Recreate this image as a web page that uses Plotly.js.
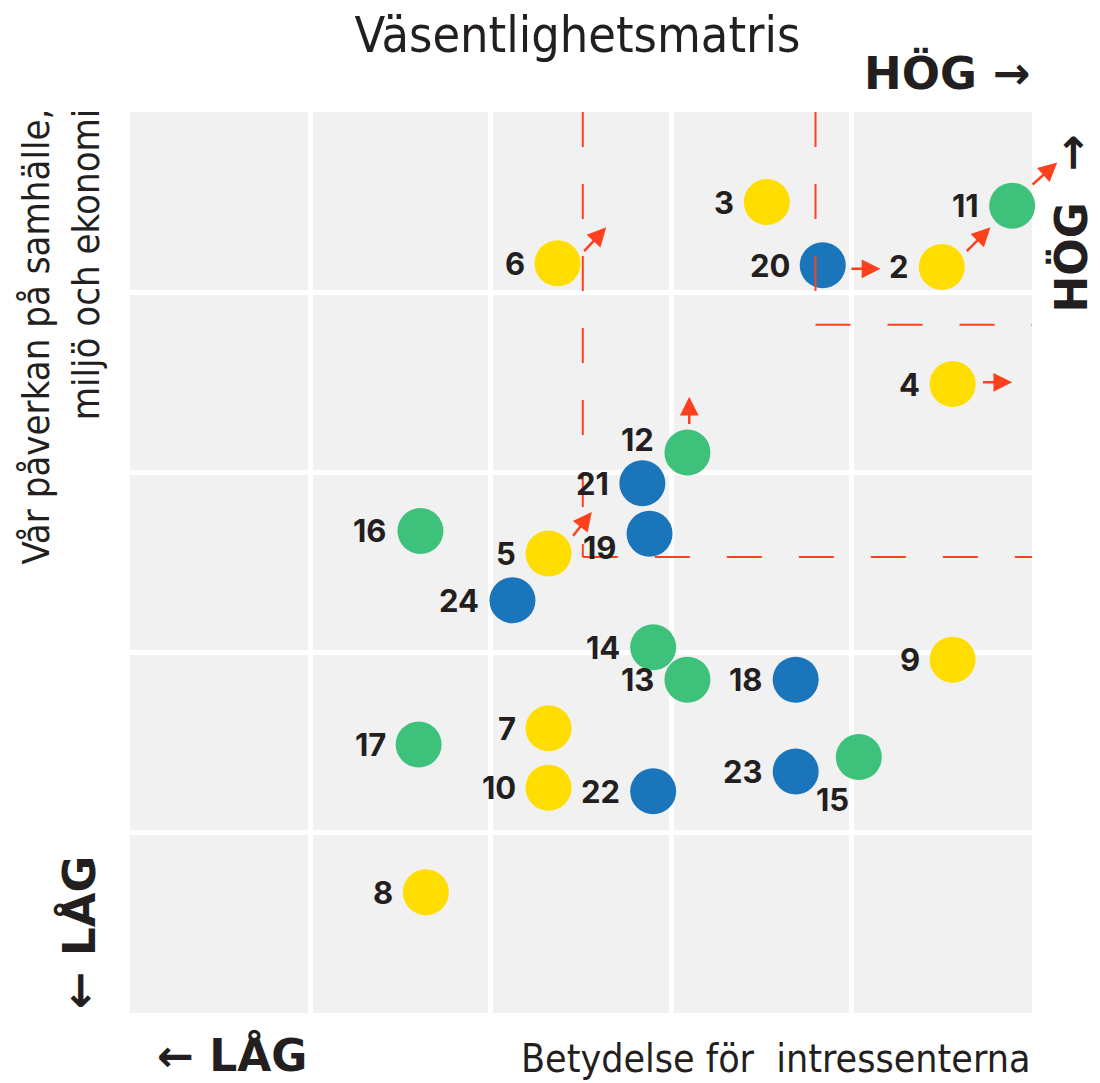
<!DOCTYPE html>
<html>
<head>
<meta charset="utf-8">
<script src="https://cdn.plot.ly/plotly-3.0.1.min.js"></script>
<style>html,body{margin:0;padding:0;background:#fff;}#chart{width:1100px;height:1083px;}</style>
</head>
<body>
<div id="chart"></div>
<script>
// Data (x: Betydelse för intressenterna, y: Vår påverkan), scale 0–5
const ids      = ['3','6','20','2','11','4','12','21','16','5','19','24','14','13','18','9','17','7','10','22','23','15','8'];
const xVals    = [3.53,2.37,3.84,4.50,4.89,4.56,3.09,2.84,1.61,2.32,2.88,2.12,2.90,3.09,3.69,4.56,1.60,2.32,2.32,2.90,3.69,4.04,1.64];
const yVals    = [4.50,4.16,4.15,4.14,4.48,3.49,3.11,2.94,2.675,2.55,2.66,2.29,2.03,1.85,1.85,1.96,1.49,1.58,1.25,1.23,1.34,1.42,0.67];
const groups   = ['gul','gul','blå','gul','grön','gul','grön','blå','grön','gul','blå','blå','grön','grön','blå','gul','grön','gul','gul','blå','blå','grön','gul'];

// Movement arrows: start and end (data units)
const arrowX0 = [2.51,3.99,4.63,4.995,4.72,3.10,2.45];
const arrowY0 = [4.22,4.13,4.22,4.59,3.50,3.26,2.64];
const arrowX1 = [2.64,4.16,4.77,5.14,4.89,3.10,2.56];
const arrowY1 = [4.36,4.13,4.36,4.72,3.50,3.42,2.78];

// Threshold lines (dashed)
const thresholdsX = [2.51, 3.80];
const thresholdsY = [2.53, 3.82];

const title = 'Väsentlighetsmatris';
const xTitle = 'Betydelse för  intressenterna';
const yTitle = 'Vår påverkan på samhälle,<br>miljö och ekonomi';

// styles
const colorMap = {'gul':'#FFDD00','blå':'#1B75BB','grön':'#3EC27B'};
const red = '#FF401F';
const dark = '#231F20';
const labelFont = {family:'Inter, "DejaVu Sans", sans-serif', size:31, color:dark, weight:800};
const bigFont = {family:'"DejaVu Sans", sans-serif', size:45, color:dark, weight:700};
const edgeFont = {family:'"DejaVu Sans", sans-serif', size:42, color:dark, weight:700};
const lightFont = {family:'"DejaVu Sans Condensed", "Liberation Sans", sans-serif', color:dark};

const labelShift = {'12':[0,13], '19':[0,-14]};

const traces = [{
  type:'scatter', mode:'markers',
  x:xVals, y:yVals, text:ids, hoverinfo:'text',
  marker:{size:46, color:groups.map(g=>colorMap[g]), line:{width:0}},
  cliponaxis:false, showlegend:false
}];

const annotations = [];
ids.forEach((id,i)=>{
  if(id==='15'){
    annotations.push({x:xVals[i], y:yVals[i], xref:'x', yref:'y', text:'<b>'+id+'</b>', showarrow:false,
      xanchor:'center', yanchor:'middle', xshift:-26, yshift:-42, font:labelFont});
    return;
  }
  const s = labelShift[id] || [0,0];
  annotations.push({x:xVals[i], y:yVals[i], xref:'x', yref:'y', text:'<b>'+id+'</b>', showarrow:false,
    xanchor:'right', yanchor:'middle', xshift:-31 + s[0], yshift:s[1], font:labelFont});
});
arrowX0.forEach((x0,i)=>{
  annotations.push({x:arrowX1[i], y:arrowY1[i], ax:x0, ay:arrowY0[i], xref:'x', yref:'y', axref:'x', ayref:'y',
    text:'', showarrow:true, arrowhead:2, arrowsize:1.5, arrowwidth:2.5, arrowcolor:red, standoff:0, startstandoff:0});
});
// Axis titles & direction labels
annotations.push({xref:'paper', yref:'paper', x:1.0, y:-0.05, xanchor:'right', yanchor:'middle', showarrow:false,
  text:xTitle, font:Object.assign({}, lightFont, {size:39})});
annotations.push({xref:'paper', yref:'paper', x:-0.0765, y:1.006, xanchor:'center', yanchor:'top', showarrow:false,
  text:yTitle, textangle:-90, align:'right', font:Object.assign({}, lightFont, {size:38})});
annotations.push({xref:'paper', yref:'paper', x:1.0, y:1.043, xanchor:'right', yanchor:'middle', showarrow:false,
  text:'<b>HÖG →</b>', font:bigFont});
annotations.push({xref:'paper', yref:'paper', x:0.028, y:-0.0465, xanchor:'left', yanchor:'middle', showarrow:false,
  text:'<b>← LÅG</b>', font:Object.assign({}, edgeFont, {size:44})});
annotations.push({xref:'paper', yref:'paper', x:1.043, y:0.876, xanchor:'center', yanchor:'middle', showarrow:false,
  text:'<b>HÖG&nbsp; →</b>', textangle:-90, font:Object.assign({}, edgeFont, {size:44})});
annotations.push({xref:'paper', yref:'paper', x:-0.055, y:0.09, xanchor:'center', yanchor:'middle', showarrow:false,
  text:'<b>← LÅG</b>', textangle:-90, font:bigFont});

const dash = {color:red, width:2, dash:'35px,37px'};
const shapes = [];
thresholdsX.forEach((tx,i)=>{
  const ty = thresholdsY[i];
  shapes.push({type:'line', xref:'x', yref:'y', x0:tx, x1:tx, y0:5, y1:ty, line:dash, layer:'above'});
  shapes.push({type:'line', xref:'x', yref:'y', x0:tx, x1:5, y0:ty, y1:ty, line:dash, layer:'above'});
});

const axisCommon = {range:[0,5], dtick:1, tick0:0, showgrid:true, gridcolor:'#ffffff', gridwidth:5,
  zeroline:false, showline:false, showticklabels:false, ticks:'', fixedrange:true};

const layout = {
  width:1100, height:1083,
  margin:{l:130, r:68, t:112, b:70},
  paper_bgcolor:'#ffffff', plot_bgcolor:'#F1F1F1',
  title:{text:title, x:0.525, xanchor:'center', y:0.968, yanchor:'middle', yref:'container',
    font:Object.assign({}, lightFont, {size:50})},
  xaxis:Object.assign({}, axisCommon),
  yaxis:Object.assign({}, axisCommon),
  annotations:annotations, shapes:shapes, showlegend:false, hovermode:'closest'
};

Plotly.newPlot('chart', traces, layout, {displayModeBar:false, staticPlot:true});
</script>
</body>
</html>
